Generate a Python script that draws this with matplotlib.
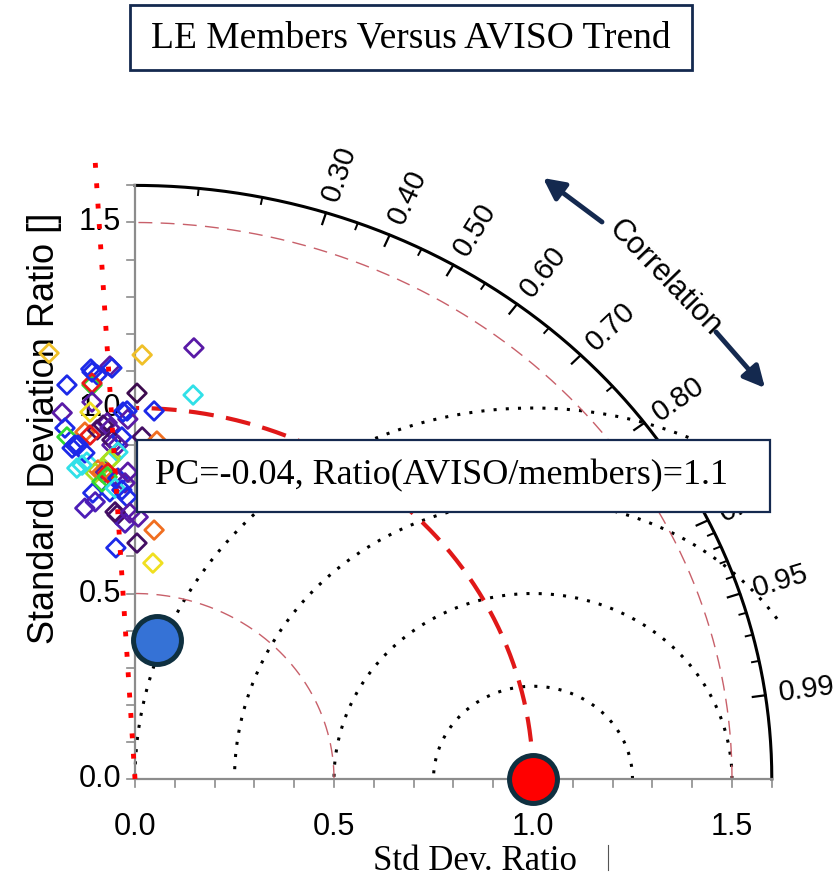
import numpy as np
import matplotlib
matplotlib.use("Agg")
import matplotlib.pyplot as plt
from matplotlib.colors import LinearSegmentedColormap
from matplotlib.patches import Rectangle

# Taylor diagram: LE members vs AVISO trend

title = "LE Members Versus AVISO Trend"
note = "PC=-0.04, Ratio(AVISO/members)=1.1"

# ensemble members (std ratio x / y components, colour index)
member_x = [0.018, 0.148, 0.005, 0.146, 0.048, -0.020, -0.018, 0.018, 0.055, -0.216,
            -0.171, -0.111, -0.063, -0.095, -0.108, -0.108, -0.183, -0.108, -0.176, -0.126,
            -0.171, -0.151, -0.070, -0.095, -0.058, -0.113, -0.146, -0.121, -0.158, -0.126,
            -0.058, -0.093, -0.100, -0.075, -0.106, -0.063, -0.126, -0.083, -0.045, -0.048,
            -0.025, 0.008, 0.048, 0.005, 0.045, -0.108, -0.058, -0.030, -0.113, -0.080,
            -0.063, -0.033, -0.058, -0.143, -0.043, -0.043, -0.133, -0.063, -0.083, -0.068,
            -0.070, -0.043, -0.018, -0.025, -0.050, -0.100, -0.033, -0.020, -0.050, -0.013]
member_y = [1.143, 1.162, 1.040, 1.035, 0.992, 0.992, 0.970, 0.922, 0.911, 1.148,
            1.062, 1.105, 1.113, 1.089, 1.062, 1.067, 0.987, 1.016, 0.946, 0.935,
            0.922, 0.900, 0.960, 0.941, 0.900, 0.927, 0.838, 0.854, 0.892, 0.879,
            0.865, 0.833, 0.825, 0.827, 0.771, 0.774, 0.730, 0.801, 0.712, 0.623,
            0.690, 0.706, 0.671, 0.636, 0.582, 1.097, 1.108, 0.989, 0.989, 0.954,
            0.946, 0.922, 0.914, 0.900, 0.900, 0.881, 0.846, 0.860, 0.827, 0.825,
            0.814, 0.811, 0.827, 0.798, 0.784, 0.747, 0.779, 0.760, 0.720, 0.717]
member_c = [0.82, 0.12, 0.00, 0.40, 0.25, 0.25, 0.12, 0.03, 0.90, 0.82,
            0.25, 0.25, 0.12, 0.25, 0.55, 1.00, 0.12, 0.12, 0.25, 0.90,
            0.55, 0.25, 0.12, 0.03, 0.12, 1.00, 0.40, 0.40, 0.25, 0.25,
            0.65, 0.90, 0.65, 0.12, 0.25, 0.25, 0.15, 0.55, 0.03, 0.25,
            0.15, 0.12, 0.90, 0.03, 0.75, 0.25, 0.25, 0.25, 0.75, 0.03,
            0.12, 0.25, 0.03, 0.25, 0.12, 0.40, 0.40, 0.65, 0.90, 1.00,
            0.55, 0.25, 0.12, 0.12, 0.40, 0.15, 0.25, 0.25, 0.03, 0.12]

# reference and observation points
ref_point = (1.0, 0.0)
aviso_point = (0.055, 0.375)
aviso_corr_line = -0.06

std_arcs_thin = [0.5, 1.5]
std_arc_ref = 1.0
rms_levels = [0.25, 0.5, 0.75, 1.0]
corr_labels = [0.3, 0.4, 0.5, 0.6, 0.7, 0.8, 0.9, 0.95, 0.99]
corr_minor = [0.1, 0.2, 0.35, 0.45, 0.55, 0.65, 0.75, 0.85, 0.91, 0.92, 0.93, 0.94,
              0.96, 0.97, 0.98]
axis_ticks = [0.0, 0.5, 1.0, 1.5]
rmax = 1.6

navy = "#14294f"
serif = "Liberation Serif"
sans = "Liberation Sans"

W, H = 833, 885
SX, SY = 398.0, 371.0   # pixels per unit
OX, OY = 135.0, 779.0   # origin in pixels


def px(x, y):
    return (x - OX) / SX, (OY - y) / SY


fig = plt.figure(figsize=(W / 100, H / 100), dpi=100)
ax = fig.add_axes([0, 0, 1, 1])
ax.set_xlim(-OX / SX, (W - OX) / SX)
ax.set_ylim(-(H - OY) / SY, OY / SY)
ax.axis("off")

# RMS circles around the reference
t = np.linspace(0, np.pi, 600)
for r in rms_levels:
    x = 1 + r * np.cos(t)
    y = r * np.sin(t)
    bad = (x ** 2 + y ** 2 > 1.67 ** 2) | (x < 0)
    x = np.where(bad, np.nan, x)
    ax.plot(x, y, color="black", lw=2.2, ls=(0, (1, 3.0)), zorder=2)

# std dev arcs
q = np.linspace(0, np.pi / 2, 300)
for s in std_arcs_thin:
    ax.plot(s * np.cos(q), s * np.sin(q), color="#c8606a", lw=1.0, ls=(0, (10, 6)), zorder=2)
ax.plot(std_arc_ref * np.cos(q), std_arc_ref * np.sin(q), color="#e01818", lw=3.0,
        ls=(0, (6, 3)), zorder=3)

# outer arc and its ticks
ax.plot(rmax * np.cos(q), rmax * np.sin(q), color="black", lw=2.2, zorder=4)
for c in corr_labels:
    a = np.arccos(c)
    ax.plot([rmax * np.cos(a), (rmax - 0.032) * np.cos(a)],
            [rmax * np.sin(a), (rmax - 0.032) * np.sin(a)], color="black", lw=1.6, zorder=4)
    ax.text(1.635 * np.cos(a), 1.635 * np.sin(a), f"{c:.2f}", rotation=np.degrees(a),
            transform_rotates_text=True, rotation_mode="anchor", ha="left", va="center",
            fontsize=21, family=sans, zorder=4)
for c in corr_minor:
    a = np.arccos(c)
    ax.plot([rmax * np.cos(a), (rmax - 0.018) * np.cos(a)],
            [rmax * np.sin(a), (rmax - 0.018) * np.sin(a)], color="black", lw=1.4, zorder=4)

# Cartesian axes
gray = "#8c8c8c"
ax.plot([0, rmax], [0, 0], color=gray, lw=1.6, zorder=4)
ax.plot([0, 0], [0, rmax], color=gray, lw=1.6, zorder=4)
for v in np.arange(0, rmax + 0.01, 0.1):
    ax.plot([v, v], [0, -8 / SY], color=gray, lw=1.2, zorder=4)
    ax.plot([0, -8 / SX], [v, v], color=gray, lw=1.2, zorder=4)
for v in axis_ticks:
    ax.text(v, -48 / SY, f"{v:.1f}", ha="center", va="center", fontsize=22, family=sans)
    ax.text(-14 / SX, v, f"{v:.1f}", ha="right", va="center", fontsize=22, family=sans)

ax.text(*px(45, 428), "Standard Deviation Ratio []", rotation=90, ha="center", va="center",
        fontsize=26, family=sans)
ax.text(*px(475, 862), "Std Dev. Ratio", ha="center", va="center", fontsize=25, family=serif)
ax.plot(*zip(px(608, 845), px(608, 870)), color="#555555", lw=0.8)

# Correlation label and arrows
ax.text(*px(665, 278), "Correlation", rotation=-46, ha="center", va="center",
        fontsize=22, family=sans, zorder=5)
for tail, tip in [((602, 222), (543, 178)), ((716, 332), (765, 388))]:
    ax.annotate("", xy=px(*tip), xytext=px(*tail),
                arrowprops=dict(arrowstyle="-|>", color=navy, lw=3.5, mutation_scale=32,
                                shrinkA=0, shrinkB=0), zorder=5)

# members
cmap = LinearSegmentedColormap.from_list("idl_rainbow", [
    (0.0, "#3c0a4e"), (0.12, "#5a1aa8"), (0.25, "#1c28e8"), (0.4, "#30e0e8"),
    (0.55, "#30d830"), (0.65, "#a8e020"), (0.75, "#f0e020"), (0.82, "#f0c028"),
    (0.9, "#f07020"), (1.0, "#e81818")])
ax.scatter(member_x, member_y, s=9.5 ** 2, marker="D", facecolors="none",
           edgecolors=cmap(np.array(member_c)), linewidths=2.0, zorder=6)

# AVISO correlation line
a = np.arccos(aviso_corr_line)
ax.plot([0, 1.67 * np.cos(a)], [0, 1.67 * np.sin(a)], color="#ff0000", lw=3.5,
        ls=(0, (1, 3.2)), dash_capstyle="butt", zorder=7)

ax.plot(*ref_point, "o", ms=34.5, color="#ff0000", mec="#0f3040", mew=3.6, zorder=8,
        clip_on=False)
ax.plot(*aviso_point, "o", ms=34.5, color="#3572d6", mec="#0f3040", mew=3.6, zorder=8)

# annotation box
x0, y0 = px(137, 512)
ax.add_patch(Rectangle((x0, y0), (770 - 137) / SX, (512 - 440) / SY, fc="white", ec=navy,
                       lw=1.6, zorder=10))
ax.text(*px(155, 476), note, ha="left", va="center", fontsize=26, family=serif, zorder=11)

# title box
x0, y0 = px(130, 70)
ax.add_patch(Rectangle((x0, y0), (692 - 130) / SX, (70 - 5) / SY, fc="white", ec=navy,
                       lw=2.0, zorder=10))
ax.text(*px(411, 38), title, ha="center", va="center", fontsize=27, family=serif, zorder=11)

fig.savefig("out.png", dpi=100)
